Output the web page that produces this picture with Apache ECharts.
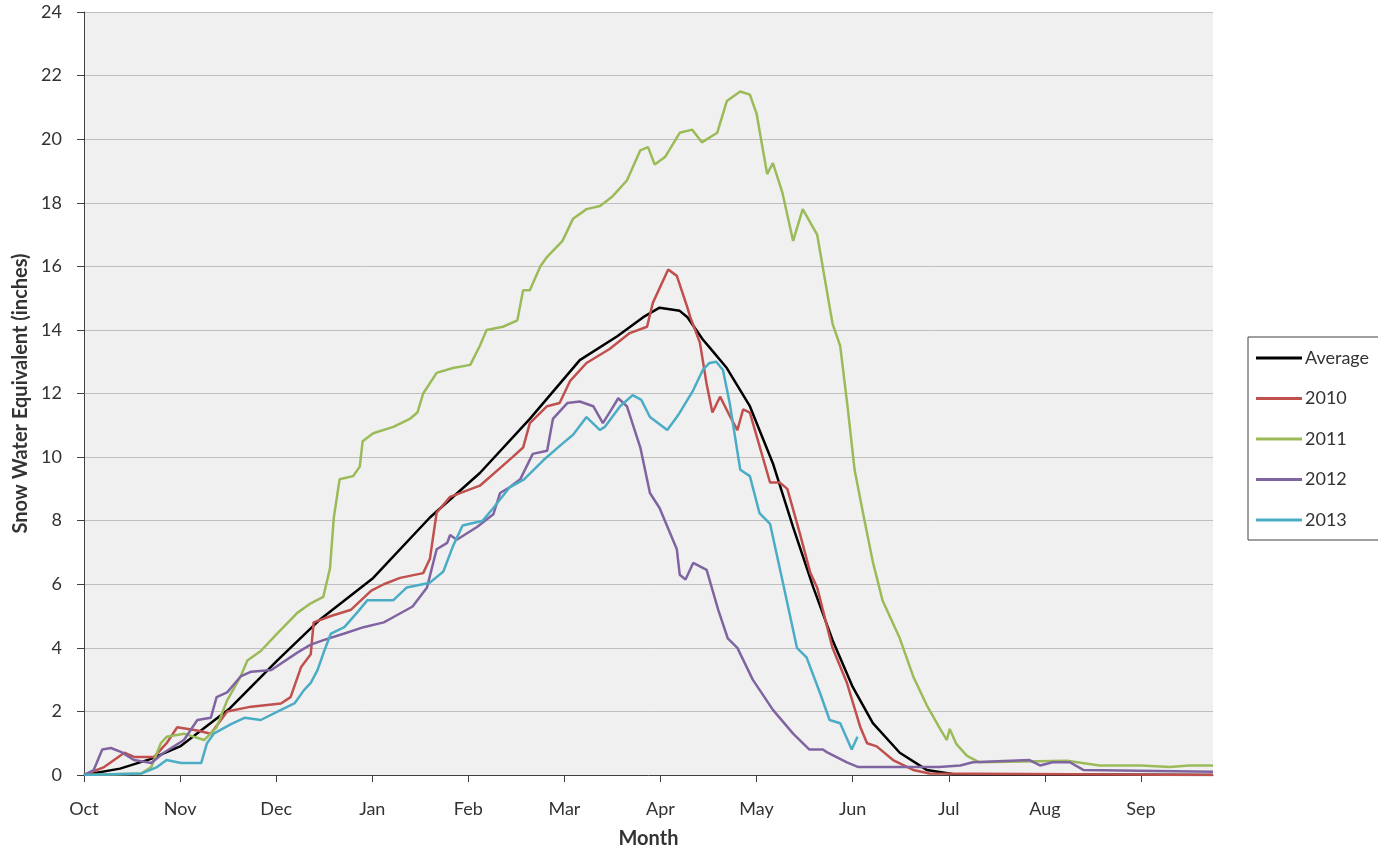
<!DOCTYPE html>
<html>
<head>
  <meta charset="utf-8">
  <title>Snow Water Equivalent</title>
  <style>
    html, body { margin: 0; padding: 0; background: #fff; }
    #main { width: 1378px; height: 850px; }
  </style>
</head>
<body>
  <div id="main"></div>
  <script src="https://cdn.jsdelivr.net/npm/echarts@6.0.0/dist/echarts.min.js"></script>
  <script>
    // x = months after Oct 1, y = inches
    const months = ['Oct', 'Nov', 'Dec', 'Jan', 'Feb', 'Mar', 'Apr', 'May', 'Jun', 'Jul', 'Aug', 'Sep'];
    const yTicks = [0, 2, 4, 6, 8, 10, 12, 14, 16, 18, 20, 22, 24];

    const avgData = [
      [0, 0], [0.375, 0.2], [0.69, 0.5], [1.0, 0.9], [1.52, 2.1], [2.01, 3.6], [2.46, 4.9],
      [3.01, 6.2], [3.6, 8.1], [4.12, 9.5], [4.64, 11.2], [5.16, 13.05], [5.55, 13.8],
      [5.82, 14.4], [5.99, 14.7], [6.2, 14.6], [6.28, 14.4], [6.44, 13.7], [6.51, 13.45],
      [6.69, 12.8], [6.93, 11.6], [7.17, 9.8], [7.38, 7.8], [7.59, 5.9], [7.79, 4.25],
      [8.0, 2.77], [8.21, 1.63], [8.49, 0.7], [8.77, 0.16], [9.04, 0.03], [11.75, 0]
    ];
    const y2010 = [
      [0, 0], [0.21, 0.25], [0.42, 0.7], [0.52, 0.57], [0.73, 0.57], [0.86, 1.0], [0.97, 1.5],
      [1.18, 1.4], [1.32, 1.3], [1.49, 2.0], [1.74, 2.15], [2.05, 2.25], [2.15, 2.45],
      [2.26, 3.4], [2.36, 3.8], [2.39, 4.8], [2.57, 5.0], [2.78, 5.2], [2.99, 5.8], [3.12, 6.0],
      [3.29, 6.2], [3.53, 6.35], [3.6, 6.8], [3.67, 8.25], [3.81, 8.75], [4.12, 9.1],
      [4.46, 10.0], [4.57, 10.3], [4.64, 11.07], [4.82, 11.6], [4.95, 11.7], [5.06, 12.4],
      [5.23, 12.96], [5.47, 13.4], [5.68, 13.9], [5.86, 14.1], [5.92, 14.85], [6.08, 15.9],
      [6.17, 15.7], [6.28, 14.7], [6.31, 14.4], [6.41, 13.6], [6.48, 12.3], [6.54, 11.4],
      [6.62, 11.9], [6.72, 11.3], [6.8, 10.85], [6.86, 11.5], [6.93, 11.4], [7.14, 9.2],
      [7.24, 9.2], [7.32, 9.0], [7.45, 7.6], [7.56, 6.35], [7.63, 5.9], [7.79, 4.0],
      [7.94, 2.9], [8.08, 1.5], [8.15, 1.0], [8.25, 0.9], [8.42, 0.47], [8.63, 0.16],
      [8.8, 0.05], [11.75, 0]
    ];
    const y2011 = [
      [0, 0], [0.6, 0.05], [0.7, 0.25], [0.8, 1.0], [0.86, 1.2], [1.04, 1.3], [1.25, 1.1],
      [1.38, 1.5], [1.49, 2.35], [1.63, 3.1], [1.7, 3.6], [1.84, 3.9], [2.01, 4.45],
      [2.22, 5.1], [2.36, 5.4], [2.49, 5.6], [2.56, 6.5], [2.6, 8.1], [2.66, 9.3], [2.8, 9.4],
      [2.87, 9.7], [2.9, 10.5], [3.01, 10.75], [3.22, 10.95], [3.39, 11.2], [3.47, 11.4],
      [3.53, 12.0], [3.67, 12.65], [3.84, 12.8], [4.02, 12.9], [4.12, 13.5], [4.19, 14.0],
      [4.36, 14.1], [4.51, 14.3], [4.57, 15.25], [4.64, 15.25], [4.75, 16.0], [4.82, 16.3],
      [4.98, 16.8], [5.09, 17.5], [5.23, 17.8], [5.37, 17.9], [5.5, 18.2], [5.65, 18.7],
      [5.79, 19.65], [5.87, 19.75], [5.94, 19.2], [6.05, 19.45], [6.2, 20.2], [6.33, 20.3],
      [6.43, 19.9], [6.59, 20.2], [6.69, 21.2], [6.83, 21.5], [6.93, 21.4], [7.0, 20.8],
      [7.11, 18.9], [7.17, 19.25], [7.27, 18.3], [7.38, 16.8], [7.48, 17.8], [7.63, 17.0],
      [7.79, 14.2], [7.87, 13.5], [7.95, 11.5], [8.02, 9.6], [8.11, 8.2], [8.21, 6.7],
      [8.31, 5.5], [8.49, 4.3], [8.63, 3.1], [8.77, 2.2], [8.91, 1.45], [8.98, 1.1],
      [9.01, 1.45], [9.08, 0.97], [9.19, 0.6], [9.32, 0.4], [10.23, 0.45], [10.57, 0.3],
      [11.0, 0.3], [11.3, 0.25], [11.5, 0.3], [11.75, 0.3]
    ];
    const y2012 = [
      [0, 0], [0.1, 0.15], [0.19, 0.8], [0.28, 0.85], [0.39, 0.72], [0.52, 0.47], [0.7, 0.38],
      [0.83, 0.7], [1.04, 1.1], [1.18, 1.73], [1.32, 1.8], [1.38, 2.45], [1.49, 2.6],
      [1.63, 3.1], [1.74, 3.25], [1.95, 3.3], [2.22, 3.85], [2.36, 4.1], [2.5, 4.25],
      [2.71, 4.45], [2.91, 4.65], [3.12, 4.8], [3.18, 4.9], [3.42, 5.3], [3.57, 5.9],
      [3.67, 7.1], [3.78, 7.3], [3.81, 7.55], [3.88, 7.4], [4.09, 7.8], [4.26, 8.2],
      [4.33, 8.87], [4.43, 9.05], [4.54, 9.3], [4.67, 10.1], [4.82, 10.2], [4.88, 11.2],
      [5.03, 11.7], [5.16, 11.75], [5.3, 11.6], [5.4, 11.07], [5.49, 11.5], [5.56, 11.85],
      [5.65, 11.6], [5.79, 10.3], [5.89, 8.87], [5.99, 8.4], [6.17, 7.1], [6.2, 6.3],
      [6.26, 6.15], [6.34, 6.67], [6.48, 6.45], [6.6, 5.2], [6.7, 4.3], [6.8, 4.0],
      [6.96, 3.0], [7.17, 2.05], [7.38, 1.3], [7.55, 0.8], [7.69, 0.8], [7.73, 0.72],
      [7.94, 0.4], [8.06, 0.25], [8.9, 0.25], [9.12, 0.3], [9.25, 0.4], [9.84, 0.47],
      [9.95, 0.3], [10.08, 0.4], [10.26, 0.4], [10.4, 0.16], [11.75, 0.1]
    ];
    const y2013 = [
      [0, 0], [0.6, 0.05], [0.76, 0.25], [0.86, 0.47], [1.01, 0.38], [1.22, 0.38], [1.28, 1.0],
      [1.35, 1.3], [1.53, 1.6], [1.67, 1.8], [1.84, 1.73], [2.05, 2.05], [2.19, 2.25],
      [2.29, 2.67], [2.36, 2.9], [2.43, 3.3], [2.5, 3.9], [2.57, 4.45], [2.71, 4.65],
      [2.84, 5.1], [2.95, 5.5], [3.22, 5.5], [3.36, 5.9], [3.6, 6.05], [3.74, 6.4],
      [3.84, 7.2], [3.94, 7.85], [4.15, 8.0], [4.26, 8.4], [4.43, 9.05], [4.58, 9.3],
      [4.78, 9.9], [4.97, 10.4], [5.09, 10.7], [5.23, 11.26], [5.37, 10.85], [5.42, 10.95],
      [5.58, 11.6], [5.71, 11.95], [5.8, 11.8], [5.89, 11.26], [6.07, 10.85], [6.17, 11.26],
      [6.2, 11.4], [6.34, 12.1], [6.44, 12.74], [6.51, 12.96], [6.58, 13.0], [6.65, 12.74],
      [6.72, 11.7], [6.83, 9.6], [6.93, 9.4], [7.03, 8.24], [7.14, 7.9], [7.27, 6.1],
      [7.42, 4.0], [7.52, 3.7], [7.66, 2.58], [7.76, 1.73], [7.87, 1.63], [7.99, 0.8],
      [8.05, 1.2]
    ];

    const font = 'Lato, "Open Sans", sans-serif';

    function lineSeries(name, data, color) {
      return {
        name: name,
        type: 'line',
        data: data,
        symbol: 'none',
        smooth: false,
        animation: false,
        lineStyle: { color: color, width: 2.5 },
        itemStyle: { color: color }
      };
    }

    const option = {
      animation: false,
      textStyle: { fontFamily: font },
      grid: {
        left: 84, right: 165, top: 12, bottom: 75,
        outerBoundsMode: 'none',
        show: true, backgroundColor: '#f0f0f0', borderWidth: 0
      },
      legend: {
        orient: 'vertical',
        left: 1248,
        top: 337,
        icon: 'rect',
        itemWidth: 46,
        itemHeight: 3,
        itemGap: 22.5,
        padding: [12, 20, 11, 8],
        borderColor: '#404040',
        borderWidth: 1,
        backgroundColor: '#fff',
        textStyle: { fontSize: 18, color: '#333', lineHeight: 18, padding: [0, 0, 0, -2] },
        data: ['Average', '2010', '2011', '2012', '2013']
      },
      xAxis: {
        type: 'value',
        min: 0,
        max: 11.75,
        interval: 1,
        name: 'Month',
        nameLocation: 'middle',
        nameGap: 54,
        nameTextStyle: { fontSize: 20, fontWeight: 'bold', color: '#333' },
        axisLine: { show: true, lineStyle: { color: '#404040', width: 1 } },
        axisTick: {
          show: true, inside: false, length: 7,
          customValues: months.map((m, i) => i),
          lineStyle: { color: '#404040' }
        },
        axisLabel: {
          fontSize: 18, color: '#333', margin: 25,
          customValues: months.map((m, i) => i),
          formatter: v => months[Math.round(v)] || ''
        },
        splitLine: { show: false }
      },
      yAxis: {
        type: 'value',
        min: 0,
        max: 24,
        interval: 2,
        name: 'Snow Water Equivalent (inches)',
        nameLocation: 'middle',
        nameGap: 51,
        nameTextStyle: { fontSize: 20, fontWeight: 'bold', color: '#333' },
        axisLine: { show: true, lineStyle: { color: '#404040', width: 1 } },
        axisTick: { show: true, inside: false, length: 7, lineStyle: { color: '#404040' } },
        axisLabel: {
          fontSize: 18, color: '#333', margin: 22,
          formatter: v => (yTicks.indexOf(v) >= 0 ? String(v) : '')
        },
        splitLine: { show: true, lineStyle: { color: '#bfbfbf', width: 1 } }
      },
      series: [
        lineSeries('Average', avgData, '#000000'),
        lineSeries('2010', y2010, '#c0504d'),
        lineSeries('2011', y2011, '#9bbb59'),
        lineSeries('2012', y2012, '#8064a2'),
        lineSeries('2013', y2013, '#4bacc6')
      ]
    };

    const chart = echarts.init(document.getElementById('main'));
    chart.setOption(option);
  </script>
</body>
</html>
